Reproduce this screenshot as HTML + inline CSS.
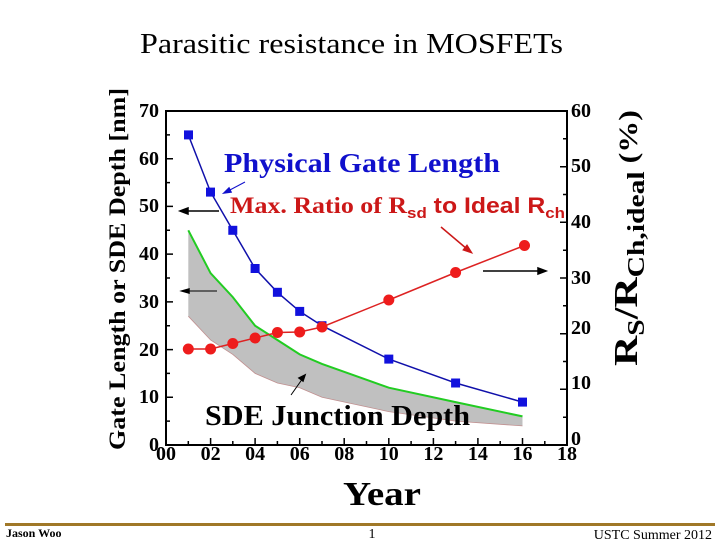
<!DOCTYPE html>
<html><head><style>
body{margin:0;width:720px;height:540px;background:#fff;overflow:hidden}
</style></head><body>
<svg width="720" height="540" xmlns="http://www.w3.org/2000/svg" style="position:absolute;left:0;top:0">
<text x="140" y="53" textLength="423" lengthAdjust="spacingAndGlyphs" font-family="Liberation Serif" font-size="28">Parasitic resistance in MOSFETs</text>
<polygon points="188.3,230.3 210.6,273.2 232.8,297.1 255.1,325.7 277.4,340 299.7,354.4 322,363.9 388.8,387.7 455.6,402.1 522.5,416.4 522.5,425.9 455.6,421.1 388.8,411.6 322,397.3 299.7,387.7 277.4,383 255.1,373.4 232.8,354.4 210.6,340 188.3,316.2" fill="#c0c0c0"/>
<polyline points="188.3,316.2 210.6,340 232.8,354.4 255.1,373.4 277.4,383 299.7,387.7 322,397.3 388.8,411.6 455.6,421.1 522.5,425.9" fill="none" stroke="#c09090" stroke-width="0.8"/>
<polyline points="188.3,230.3 210.6,273.2 232.8,297.1 255.1,325.7 277.4,340 299.7,354.4 322,363.9 388.8,387.7 455.6,402.1 522.5,416.4" fill="none" stroke="#22cc22" stroke-width="2"/>
<rect x="166" y="111" width="401" height="334" fill="none" stroke="#000" stroke-width="2"/>
<g stroke="#000" stroke-width="1.5">
<path d="M166 397.3h7M166 349.6h7M166 301.9h7M166 254.1h7M166 206.4h7M166 158.7h7
M166 421.1h4M166 373.4h4M166 325.7h4M166 278h4M166 230.3h4M166 182.6h4M166 134.9h4
M567 389.3h-7M567 333.7h-7M567 278h-7M567 222.3h-7M567 166.7h-7
M567 417.2h-4M567 361.5h-4M567 305.8h-4M567 250.2h-4M567 194.5h-4M567 138.8h-4
M210.6 445v-7M255.1 445v-7M299.7 445v-7M344.2 445v-7M388.8 445v-7M433.4 445v-7M477.9 445v-7M522.5 445v-7
M188.3 445v-4M232.8 445v-4M277.4 445v-4M322 445v-4M366.5 445v-4M411.1 445v-4M455.6 445v-4M500.2 445v-4M544.8 445v-4"/>
</g>
<g font-family="Liberation Serif" font-weight="bold" font-size="20">
<g text-anchor="end">
<text x="159" y="451">0</text><text x="159" y="403">10</text><text x="159" y="356">20</text><text x="159" y="308">30</text><text x="159" y="260">40</text><text x="159" y="212">50</text><text x="159" y="165">60</text><text x="159" y="117">70</text>
</g>
<text x="571" y="445">0</text><text x="571" y="389">10</text><text x="571" y="334">20</text><text x="571" y="284">30</text><text x="571" y="228">40</text><text x="571" y="172">50</text><text x="571" y="117">60</text>
<g text-anchor="middle">
<text x="166" y="460">00</text><text x="210.6" y="460">02</text><text x="255.1" y="460">04</text><text x="299.7" y="460">06</text><text x="344.2" y="460">08</text><text x="388.8" y="460">10</text><text x="433.4" y="460">12</text><text x="477.9" y="460">14</text><text x="522.5" y="460">16</text><text x="567" y="460">18</text>
</g>
<text x="343" y="505" textLength="78" lengthAdjust="spacingAndGlyphs" font-size="34">Year</text>
<text transform="translate(125,270) rotate(-90)" x="-180" textLength="362" lengthAdjust="spacingAndGlyphs" font-size="23">Gate Length or SDE Depth [nm]</text>
<text transform="translate(637,238) rotate(-90)" x="-128" textLength="256" lengthAdjust="spacingAndGlyphs" font-size="34">R<tspan font-size="24" dy="7">S</tspan><tspan dy="-7">/R</tspan><tspan font-size="24" dy="7">Ch,ideal</tspan><tspan dy="-7" font-size="26"> (%)</tspan></text>
<text x="224" y="172" textLength="276" lengthAdjust="spacingAndGlyphs" fill="#1010cc" font-size="27">Physical Gate Length</text>
<text x="205" y="425" textLength="265" lengthAdjust="spacingAndGlyphs" font-size="28">SDE Junction Depth</text>
</g>
<text x="230" y="213" textLength="335" lengthAdjust="spacingAndGlyphs" fill="#cc1818" font-family="Liberation Serif" font-weight="bold" font-size="23">Max. Ratio of R<tspan font-family="Liberation Sans" font-size="15" dy="5">sd</tspan><tspan font-family="Liberation Sans" font-size="22" dy="-5"> to Ideal R</tspan><tspan font-family="Liberation Sans" font-size="15" dy="5">ch</tspan></text>
<g stroke="#000" stroke-width="1.5" fill="#000">
<line x1="219" y1="211" x2="186" y2="211"/><polygon points="180,211 188,208 188,214"/>
<line x1="217" y1="291" x2="188" y2="291" stroke-width="1"/><polygon points="182,291 189,289 189,293"/>
<line x1="483" y1="271" x2="540" y2="271"/><polygon points="546,271 538,268 538,274"/>
<line x1="291" y1="395" x2="303" y2="378" stroke-width="1"/><polygon points="305,375 299,378 303,381"/>
<line x1="245" y1="182" x2="228" y2="191" stroke-width="1" stroke="#1010cc"/><polygon points="224,193 229,188 231,192" fill="#1010cc" stroke="#1010cc"/>
</g>
<g stroke="#cc1818" fill="#cc1818"><line x1="441" y1="227" x2="467" y2="249" stroke-width="1.5"/><polygon points="472,253 463,250 467,245"/></g>
<polyline points="188.3,134.9 210.6,192.1 232.8,230.3 255.1,268.5 277.4,292.3 299.7,311.4 322,325.7 388.8,359.1 455.6,383 522.5,402.1" fill="none" stroke="#1010aa" stroke-width="1.5"/>
<g fill="#1111dd">
<rect x="184" y="130.4" width="9" height="9"/><rect x="206" y="187.6" width="9" height="9"/><rect x="228.3" y="225.8" width="9" height="9"/><rect x="250.6" y="264" width="9" height="9"/><rect x="272.9" y="287.8" width="9" height="9"/><rect x="295.2" y="306.9" width="9" height="9"/><rect x="317.5" y="321.2" width="9" height="9"/><rect x="384.3" y="354.6" width="9" height="9"/><rect x="451.1" y="378.5" width="9" height="9"/><rect x="518" y="397.6" width="9" height="9"/>
</g>
<polyline points="188.3,349 210.6,349 232.8,343.5 255.1,338 277.4,332.5 299.7,332 322,327 388.8,300 455.6,272.5 524.5,245.5" fill="none" stroke="#dd2222" stroke-width="1.5"/>
<g fill="#ee1c1c">
<circle cx="188.3" cy="349" r="5.5"/><circle cx="210.6" cy="349" r="5.5"/><circle cx="232.8" cy="343.5" r="5.5"/><circle cx="255.1" cy="338" r="5.5"/><circle cx="277.4" cy="332.5" r="5.5"/><circle cx="299.7" cy="332" r="5.5"/><circle cx="322" cy="327" r="5.5"/><circle cx="388.8" cy="300" r="5.5"/><circle cx="455.6" cy="272.5" r="5.5"/><circle cx="524.5" cy="245.5" r="5.5"/>
</g>
<rect x="5" y="523" width="710" height="3" fill="#a07828"/>
<text x="6" y="537" font-family="Liberation Serif" font-weight="bold" font-size="12">Jason Woo</text>
<text x="372" y="538" font-family="Liberation Serif" font-size="14" text-anchor="middle">1</text>
<text x="712" y="539" font-family="Liberation Serif" font-size="14" text-anchor="end">USTC  Summer 2012</text>
</svg>
</body></html>
